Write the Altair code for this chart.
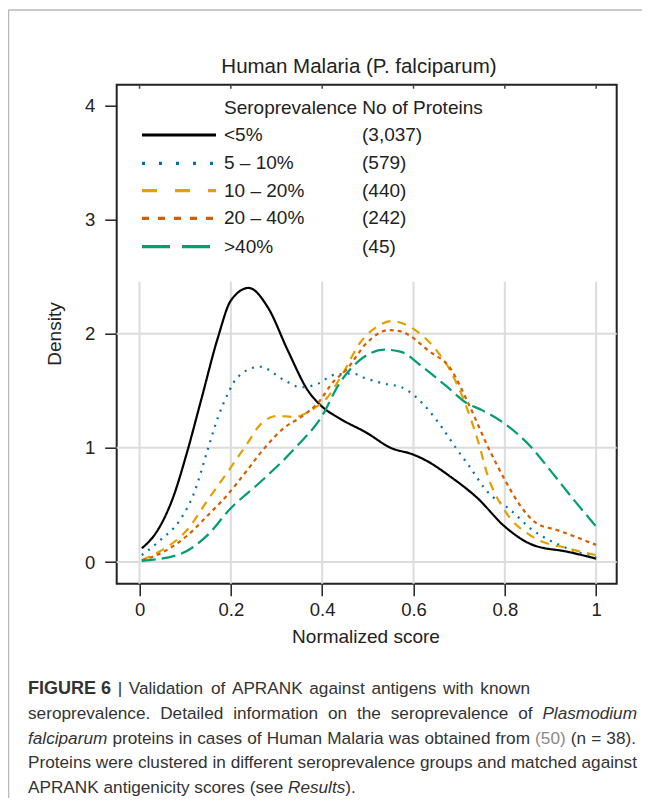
import altair as alt
import pandas as pd

# ---------------- data ----------------
groups = ["<5%", "5 – 10%", "10 – 20%", "20 – 40%", ">40%"]
counts = ["(3,037)", "(579)", "(440)", "(242)", "(45)"]
colors = ["#000000", "#0072B2", "#E69F00", "#D55E00", "#009E73"]

x_lt5 = [0.005, 0.04, 0.073, 0.104, 0.135, 0.172, 0.20, 0.239, 0.281, 0.325, 0.369, 0.40, 0.437,
         0.498, 0.55, 0.60, 0.627, 0.68, 0.74, 0.80, 0.861, 0.937, 1.0]
y_lt5 = [0.12, 0.28, 0.56, 0.96, 1.42, 1.97, 2.29, 2.40, 2.23, 1.85, 1.50, 1.36, 1.26,
         1.13, 1.00, 0.94, 0.89, 0.75, 0.56, 0.31, 0.15, 0.09, 0.03]

x_5_10 = [0.005, 0.045, 0.089, 0.119, 0.149, 0.172, 0.193, 0.215, 0.263, 0.318, 0.354, 0.39, 0.427,
          0.467, 0.494, 0.538, 0.574, 0.604, 0.633, 0.662, 0.691, 0.72, 0.763, 0.808, 0.861, 0.937, 1.0]
y_5_10 = [0.06, 0.19, 0.37, 0.60, 0.98, 1.27, 1.47, 1.62, 1.71, 1.59, 1.53, 1.56, 1.64,
          1.65, 1.61, 1.56, 1.53, 1.45, 1.33, 1.18, 1.01, 0.85, 0.61, 0.47, 0.28, 0.12, 0.04]

x_10_20 = [0.005, 0.043, 0.104, 0.149, 0.195, 0.233, 0.266, 0.303, 0.339, 0.38, 0.407, 0.445, 0.483,
           0.52, 0.552, 0.604, 0.649, 0.68, 0.71, 0.742, 0.763, 0.80, 0.861, 0.937, 1.0]
y_10_20 = [0.015, 0.09, 0.28, 0.54, 0.80, 1.02, 1.21, 1.28, 1.27, 1.34, 1.42, 1.65, 1.92,
           2.06, 2.11, 2.03, 1.86, 1.68, 1.42, 1.05, 0.75, 0.45, 0.22, 0.12, 0.06]

x_20_40 = [0.005, 0.043, 0.104, 0.15, 0.195, 0.233, 0.27, 0.318, 0.354, 0.39, 0.427, 0.452, 0.498,
           0.545, 0.573, 0.589, 0.633, 0.68, 0.72, 0.764, 0.80, 0.831, 0.869, 0.914, 1.0]
y_20_40 = [0.015, 0.07, 0.23, 0.41, 0.60, 0.79, 0.98, 1.18, 1.27, 1.39, 1.59, 1.68, 1.92,
           2.03, 2.02, 1.99, 1.85, 1.70, 1.39, 1.00, 0.72, 0.51, 0.34, 0.28, 0.15]

x_gt40 = [0.005, 0.089, 0.15, 0.195, 0.27, 0.346, 0.40, 0.437, 0.483, 0.536, 0.573, 0.619, 0.672,
          0.717, 0.75, 0.80, 0.859, 0.90, 0.952, 1.0]
y_gt40 = [0.01, 0.07, 0.24, 0.45, 0.72, 1.02, 1.28, 1.56, 1.77, 1.86, 1.84, 1.71, 1.54,
          1.39, 1.33, 1.21, 1.00, 0.80, 0.54, 0.31]

x_ticks = [0, 0.2, 0.4, 0.6, 0.8, 1]
y_ticks = [0, 1, 2, 3, 4]
grid_y = [0, 1, 2]

title_text = "Human Malaria (P. falciparum)"
x_title = "Normalized score"
y_title = "Density"
legend_header = "Seroprevalence No of Proteins"

# caption: (text, style, glued_to_previous)
caption_lines = [
    [("FIGURE 6", "bold", False), ("| Validation of APRANK against antigens with known", "normal", False)],
    [("seroprevalence. Detailed information on the seroprevalence of", "normal", False),
     ("Plasmodium", "italic", False)],
    [("falciparum", "italic", False), ("proteins in cases of Human Malaria was obtained from", "normal", False),
     ("(50)", "link", False), ("(n = 38).", "normal", False)],
    [("Proteins were clustered in different seroprevalence groups and matched against", "normal", False)],
    [("APRANK antigenicity scores (see", "normal", False), ("Results", "italic", False), (").", "normal", True)],
]

# ---------------- layout ----------------
FONT = "Liberation Sans"
W, H = 500, 499
PX0, PY0 = 116.7, 84.7          # plot origin on the page
PAD_L, PAD_T = PX0 - 8, PY0 - 8
SVG_W, SVG_H = 634, 790


def cx(px):
    return px - PX0


def cy(py):
    return py - PY0


# Arial / Liberation Sans advance widths (1/1000 em)
_REG = {" ": 278, "|": 260, ".": 278, ",": 278, "(": 333, ")": 333, "=": 584, "–": 556, "-": 333}
_REG.update({d: 556 for d in "0123456789"})
_REG.update(dict(zip("ABCDEFGHIJKLMNOPQRSTUVWXYZ",
                     [667, 667, 722, 722, 667, 611, 778, 722, 278, 500, 667, 556, 833, 722, 778, 667, 778, 722,
                      667, 611, 722, 667, 944, 667, 667, 611])))
_REG.update(dict(zip("abcdefghijklmnopqrstuvwxyz",
                     [556, 556, 500, 556, 556, 278, 556, 556, 222, 222, 500, 222, 833, 556, 556, 556, 556, 333,
                      500, 278, 556, 500, 722, 500, 500, 500])))
_BOLD = dict(_REG)
_BOLD.update({"A": 722, "B": 722, "G": 778, "R": 722, "U": 722})


def text_w(s, size, bold=False):
    tab = _BOLD if bold else _REG
    return sum(tab.get(ch, 556) for ch in s) * size / 1000.0


curve_dash = [[1, 0], [2, 6], [9, 7], [4, 4], [14, 6]]
legend_dash = [[1, 0], [3, 14], [15, 18], [7, 9], [28, 12]]

xs = alt.Scale(domain=[-0.05, 1.045], nice=False, zero=False)
ys = alt.Scale(domain=[-0.19, 4.18], nice=False, zero=False)
x_axis = alt.Axis(values=x_ticks, format="~g", title=None, grid=False, domain=False, tickSize=12,
                  tickWidth=1.5, tickColor="#222", labelFont=FONT, labelFontSize=18.5, labelColor="#222",
                  labelPadding=5, labelFlush=False)
y_axis = alt.Axis(values=y_ticks, format="~g", title=None, grid=False, domain=False, tickSize=12,
                  tickWidth=1.5, tickColor="#222", labelFont=FONT, labelFontSize=18.5, labelColor="#222",
                  labelPadding=10, labelFlush=False)

series = [(x_lt5, y_lt5), (x_5_10, y_5_10), (x_10_20, y_10_20), (x_20_40, y_20_40), (x_gt40, y_gt40)]
rows = []
for g, (xx, yy) in zip(groups, series):
    for i, (a, b) in enumerate(zip(xx, yy)):
        rows.append({"group": g, "x": a, "y": b, "i": i})
df = pd.DataFrame(rows)

# grid lines
vgrid = alt.Chart(pd.DataFrame({"x": x_ticks})).mark_rule(color="#dcdcdc", strokeWidth=2).encode(
    x=alt.X("x:Q", scale=xs, axis=x_axis), y=alt.value(cy(281.7)), y2=alt.value(H))
hgrid = alt.Chart(pd.DataFrame({"y": grid_y})).mark_rule(color="#dcdcdc", strokeWidth=2).encode(
    y=alt.Y("y:Q", scale=ys, axis=y_axis), x=alt.value(0), x2=alt.value(W))
top_ticks = alt.Chart(pd.DataFrame({"x": x_ticks})).mark_rule(color="#444", strokeWidth=1.5).encode(
    x=alt.X("x:Q", scale=xs, axis=x_axis), y=alt.value(0), y2=alt.value(4))

curves = alt.Chart(df).mark_line(strokeWidth=2.2, interpolate="monotone").encode(
    x=alt.X("x:Q", scale=xs, axis=x_axis),
    y=alt.Y("y:Q", scale=ys, axis=y_axis),
    color=alt.Color("group:N", scale=alt.Scale(domain=groups, range=colors), legend=None),
    strokeDash=alt.StrokeDash("group:N", scale=alt.Scale(domain=groups, range=curve_dash), legend=None),
    order="i:Q",
)


def text_layer(t, px, py, size=19, weight="normal", style="normal", color="#222", align="left", angle=0):
    kw = dict(font=FONT, fontSize=size, fontWeight=weight, fontStyle=style, color=color,
              align=align, baseline="middle")
    if angle:
        kw["angle"] = angle
    return alt.Chart(pd.DataFrame({"t": [t]})).mark_text(**kw).encode(
        text="t:N", x=alt.value(cx(px)), y=alt.value(cy(py)))


layers = [vgrid, hgrid, top_ticks, curves]

# titles
layers.append(text_layer(title_text, 359, 67, size=20.5, align="center"))
layers.append(text_layer(x_title, 366, 637, size=19, align="center"))
layers.append(text_layer(y_title, 55, 334, size=19, align="center", angle=270))

# legend
LEG_X1, LEG_X2 = 142, 216
LEG_TXT, LEG_CNT = 224, 362
leg_rows_y = [135, 163.3, 190.7, 218.3, 246.7]
layers.append(text_layer(legend_header, LEG_TXT, 108.3, size=19))
for g, c, col, dsh, ry in zip(groups, counts, colors, legend_dash, leg_rows_y):
    layers.append(alt.Chart(pd.DataFrame({"g": [g]})).mark_rule(
        color=col, strokeWidth=3.2, strokeDash=dsh).encode(
        x=alt.value(cx(LEG_X1)), x2=alt.value(cx(LEG_X2)), y=alt.value(cy(ry))))
    layers.append(text_layer(g, LEG_TXT, ry, size=19))
    layers.append(text_layer(c, LEG_CNT, ry, size=19))

# outer frame
layers.append(alt.Chart(pd.DataFrame({"k": [0]})).mark_rule(color="#b8b8b8", strokeWidth=1.5).encode(
    x=alt.value(cx(8.5)), y=alt.value(cy(10)), y2=alt.value(SVG_H - PAD_T + 20)))
layers.append(alt.Chart(pd.DataFrame({"k": [0]})).mark_rule(color="#b8b8b8", strokeWidth=1.5).encode(
    x=alt.value(cx(8.5)), x2=alt.value(SVG_W - PAD_L + 20), y=alt.value(cy(10))))

# caption, placed word by word (lines 1-4 spread to the reference line ends)
CAP_SIZE = 17.2
BOLD_SIZE = 18
CAP_X0 = 28.0
cap_y = [689, 713.8, 738.6, 763.4, 788]
cap_end = [530, 637, 636, 637, None]
for line, ly, tgt in zip(caption_lines, cap_y, cap_end):
    tokens = []
    for seg, st, glue in line:
        words = seg.split(" ") if st != "bold" else [seg]
        for k, wd in enumerate(words):
            tokens.append((wd, st, glue and k == 0))
    sizes = [BOLD_SIZE if st == "bold" else CAP_SIZE for _, st, _ in tokens]
    widths = [text_w(wd, s, st == "bold") for (wd, st, _), s in zip(tokens, sizes)]
    gaps = sum(1 for (_, _, gl) in tokens[1:] if not gl)
    sp = text_w(" ", CAP_SIZE)
    natural = sum(widths) + gaps * sp
    extra = 0.0
    if tgt is not None and gaps:
        extra = max(0.0, (tgt - CAP_X0 - natural) / gaps)
    xpos = CAP_X0
    for n, ((wd, st, gl), s, wdt) in enumerate(zip(tokens, sizes, widths)):
        if n > 0 and not gl:
            xpos += sp + extra
        weight = "bold" if st == "bold" else "normal"
        fstyle = "italic" if st == "italic" else "normal"
        col = "#8a8a8a" if st == "link" else "#333333"
        layers.append(text_layer(wd, xpos, ly, size=s, weight=weight, style=fstyle, color=col))
        xpos += wdt

chart = alt.layer(*layers).properties(
    width=W, height=H,
    padding={"left": PAD_L, "top": PAD_T, "right": SVG_W - PAD_L - W, "bottom": SVG_H - PAD_T - H},
    autosize=alt.AutoSizeParams(type="none"),
    background="white",
).configure_view(stroke="#222", strokeWidth=2)

chart.save("out.html", embed_options={"renderer": "svg", "actions": False})
